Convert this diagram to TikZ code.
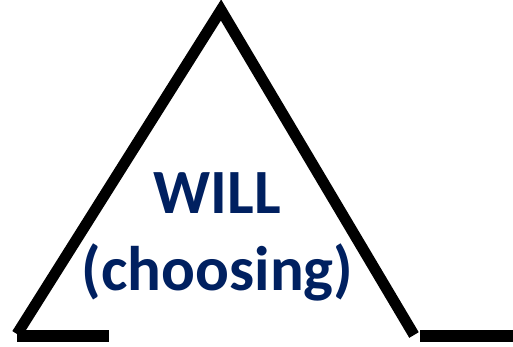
\documentclass[tikz,border=0pt]{standalone}
\usepackage{fontspec}
\setmainfont{Carlito}
\usepackage{tikz}
\usetikzlibrary{positioning}
\definecolor{wnavy}{HTML}{002060}
\tikzset{
  side/.style={draw=black,line width=11pt,miter limit=20,line join=miter},
  base/.style={draw=black,line width=12pt},
  will/.style={text=wnavy,font=\fontsize{63}{77}\selectfont\bfseries,inner sep=0pt,anchor=base},
}
\begin{document}
\begin{tikzpicture}[x=1pt,y=-1pt]
  \useasboundingbox (0,0) rectangle (513,346);
  % triangle sides
  \coordinate (bl) at (17,334);
  \coordinate (top) at (221,10);
  \coordinate (br) at (414,335);
  \draw[side] (bl) -- (top) -- (br);
  % short bars at the base
  \coordinate (la) at (17,336);
  \coordinate (lb) at (109,336);
  \coordinate (ra) at (420,336);
  \coordinate (rb) at (513,336);
  \draw[base] (la) -- (lb);
  \draw[base] (ra) -- (rb);
  % label
  \node[will] (word) at (217.5,213) {WILL};
  \node[will] (gloss) at (217.5,290) {(choosing)};
\end{tikzpicture}
\end{document}
